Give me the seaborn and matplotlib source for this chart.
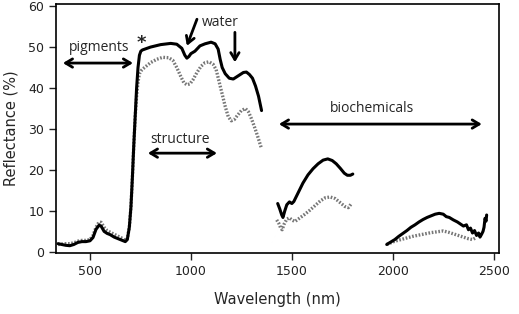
import numpy as np
import pandas as pd
import seaborn as sns
import matplotlib.pyplot as plt

wl_vis = [342, 360, 380, 400, 420, 440, 460, 480, 500, 515, 530, 545, 555, 570, 585, 600,
          620, 640, 660, 675, 685, 695, 703, 710, 717, 724, 731, 738, 745, 752, 760, 800,
          850, 900, 930, 955, 970, 980, 990, 1000, 1020, 1045, 1070, 1100, 1120, 1135,
          1145, 1155, 1170, 1190, 1210, 1235, 1260, 1275, 1290, 1305, 1320, 1335, 1350]
solid_vis = [2.0, 1.8, 1.6, 1.5, 1.8, 2.3, 2.5, 2.5, 2.7, 3.5, 5.5, 6.5, 6.3, 5.0, 4.5, 4.2,
             3.6, 3.2, 2.8, 2.5, 3.0, 6.0, 11, 18, 26, 33, 40, 45, 48, 49, 49.3, 50.0,
             50.6, 50.9, 50.7, 49.7, 48.0, 47.3, 47.7, 48.4, 49.0, 50.3, 50.8, 51.2, 50.8, 49.5,
             47.0, 45.0, 43.5, 42.4, 42.2, 43.0, 43.8, 43.9, 43.3, 42.4, 40.5, 38.0, 34.5]

wl_vis2 = [342, 360, 380, 400, 420, 440, 460, 480, 500, 515, 530, 545, 555, 570, 585, 600,
           620, 640, 660, 675, 685, 695, 703, 710, 717, 724, 731, 738, 745, 755, 770, 800,
           830, 860, 890, 910, 930, 950, 965, 980, 995, 1010, 1030, 1050, 1070, 1090, 1110,
           1125, 1140, 1155, 1170, 1185, 1200, 1215, 1230, 1250, 1270, 1285, 1300, 1315,
           1330, 1350]
dotted_vis = [1.8, 1.9, 2.0, 2.0, 2.2, 2.6, 2.8, 2.8, 3.0, 4.0, 6.0, 7.3, 7.2, 6.0, 5.2, 4.8,
              4.3, 3.8, 3.3, 2.8, 3.3, 6.0, 11, 18, 26, 33, 38, 41.5, 43.5, 44.3, 45.0, 46.2,
              47.0, 47.5, 47.4, 46.8, 45.0, 42.8, 41.3, 40.8, 41.0, 42.0, 43.8, 45.3, 46.2, 46.4, 45.8,
              44.5, 41.5, 38.5, 35.5, 33.0, 32.0, 32.3, 33.3, 34.5, 35.0, 34.2, 32.5, 30.5,
              28.3, 25.2]

wl_swir1 = [1430, 1440, 1450, 1456, 1465, 1475, 1488, 1500, 1510, 1530, 1555, 1580, 1605,
            1630, 1655, 1678, 1700, 1720, 1740, 1760, 1775, 1790, 1802]
solid_swir1 = [11.8, 10.5, 9.0, 8.4, 10.0, 11.5, 12.2, 11.8, 12.3, 14.3, 16.8, 18.8, 20.3,
               21.5, 22.4, 22.7, 22.3, 21.5, 20.4, 19.2, 18.7, 18.7, 19.0]

wl_swir1b = [1425, 1435, 1445, 1452, 1462, 1475, 1488, 1500, 1515, 1540, 1565, 1590, 1615,
             1640, 1665, 1690, 1715, 1740, 1762, 1780, 1797]
dotted_swir1 = [7.8, 7.0, 5.8, 5.4, 6.8, 8.0, 8.3, 7.8, 7.4, 8.3, 9.2, 10.2, 11.3,
                12.4, 13.2, 13.4, 13.0, 12.0, 11.1, 10.8, 11.9]

wl_swir2 = [1970, 1990, 2010, 2030, 2050, 2070, 2090, 2110, 2130, 2150, 2170, 2190, 2210,
            2230, 2250, 2265, 2280, 2300, 2320, 2335, 2350, 2365, 2375, 2385, 2395, 2405,
            2415, 2425, 2432, 2440, 2447, 2452, 2457, 2462, 2465]
solid_swir2 = [1.8, 2.4, 3.0, 3.8, 4.5, 5.2, 6.0, 6.6, 7.3, 7.9, 8.4, 8.8, 9.2,
               9.4, 9.2, 8.6, 8.4, 7.8, 7.3, 6.8, 6.3, 6.6, 5.4, 5.8, 4.6, 5.2,
               4.0, 4.6, 3.6, 4.3, 5.0, 6.0, 8.2, 7.5, 9.0]

wl_swir2b = [1970, 1990, 2010, 2040, 2070, 2100, 2130, 2160, 2190, 2220, 2250, 2275, 2300,
             2325, 2350, 2375, 2395, 2410]
dotted_swir2 = [1.8, 2.2, 2.6, 3.0, 3.4, 3.8, 4.1, 4.4, 4.7, 4.9, 5.1, 4.8, 4.4,
                4.0, 3.6, 3.2, 3.0, 3.4]

solid_parts = [(wl_vis, solid_vis), (wl_swir1, solid_swir1), (wl_swir2, solid_swir2)]
dotted_parts = [(wl_vis2, dotted_vis), (wl_swir1b, dotted_swir1), (wl_swir2b, dotted_swir2)]

sns.set_style("ticks")
plt.rcParams['font.family'] = ['DejaVu Sans']

fig = plt.figure(figsize=(5.19, 3.14), dpi=100)
ax = fig.add_axes([0.108, 0.194, 0.853, 0.793])

for x, y in dotted_parts:
    sns.lineplot(x=x, y=y, ax=ax, color='#777777', lw=2.4, linestyle=(0, (0.5, 0.5)), sort=False)
for x, y in solid_parts:
    sns.lineplot(x=x, y=y, ax=ax, color='black', lw=2.2, sort=False)

ax.set_xlim(332, 2525)
ax.set_ylim(-0.3, 60.5)
ax.set_xticks([500, 1000, 1500, 2000, 2500])
ax.set_yticks([0, 10, 20, 30, 40, 50, 60])
ax.tick_params(direction='out', length=5, width=1, labelsize=9, colors='#222222')
for s in ax.spines.values():
    s.set_linewidth(1.2)
    s.set_color('black')
ax.set_xlabel("Wavelength (nm)", fontsize=10.5, labelpad=10)
ax.set_ylabel("Reflectance (%)", fontsize=10.5, labelpad=7)

## annotations
lab = dict(fontsize=10, family=['Open Sans', 'DejaVu Sans'], ha='center', va='center')
arr2 = dict(arrowstyle="<->,head_length=0.5,head_width=0.3", lw=2, color='black', shrinkA=0, shrinkB=0)
arr1 = dict(arrowstyle="->,head_length=0.5,head_width=0.3", lw=2, color='black', shrinkA=0, shrinkB=0)

ax.text(545, 50.0, "pigments", **lab)
ax.annotate("", xy=(366, 46.1), xytext=(713, 46.1), arrowprops=arr2)
ax.text(757, 51.0, "*", fontsize=13, fontweight='bold', ha='center', va='center')
ax.text(1144, 56.0, "water", **lab)
ax.annotate("", xy=(980, 50.3), xytext=(1030, 56.8), arrowprops=arr1)
ax.annotate("", xy=(1218, 46.3), xytext=(1218, 53.6), arrowprops=arr1)
ax.text(946, 27.5, "structure", **lab)
ax.annotate("", xy=(787, 24.1), xytext=(1129, 24.1), arrowprops=arr2)
ax.text(1896, 35.0, "biochemicals", **lab)
ax.annotate("", xy=(1436, 31.2), xytext=(2441, 31.2), arrowprops=arr2)

plt.savefig("out.png", dpi=100)
